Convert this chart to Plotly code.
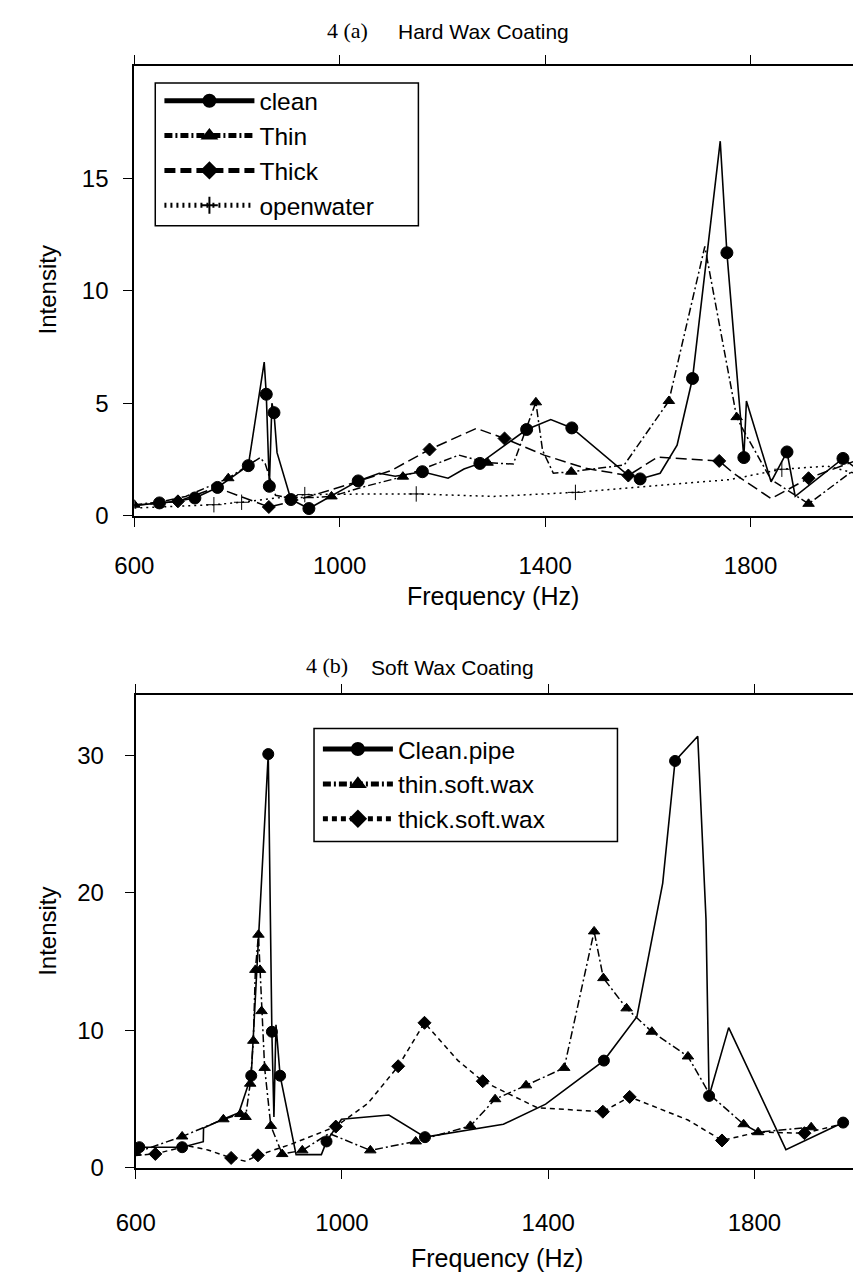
import plotly.graph_objects as go

# ---------------- data: panel (a) Hard wax coating ----------------
clean_a_f = [600, 649, 680, 718, 762, 822, 853, 857, 863, 868, 872, 878, 905, 940, 1036, 1077, 1108,
             1161, 1211, 1242, 1273, 1364, 1411, 1452, 1557, 1585, 1624, 1657, 1687, 1741, 1754, 1787,
             1792, 1840, 1871, 1887, 1980, 2000]
clean_a_v = [0.45, 0.56, 0.62, 0.78, 1.25, 2.22, 6.83, 5.4, 1.3, 5.0, 4.58, 2.8, 0.71, 0.31, 1.54, 1.88, 1.75,
             1.95, 1.66, 2.07, 2.32, 3.83, 4.27, 3.9, 1.88, 1.63, 1.88, 3.13, 6.1, 16.67, 11.7, 2.58,
             5.1, 1.5, 2.83, 0.85, 2.54, 2.2]
clean_a_mk = [0, 1, 0, 1, 1, 1, 0, 1, 1, 0, 1, 0, 1, 1, 1, 0, 0,
              1, 0, 0, 1, 1, 0, 1, 0, 1, 0, 0, 1, 0, 1, 1,
              0, 0, 1, 0, 1, 0]

thin_a_f = [600, 650, 700, 783, 845, 855, 875, 900, 950, 984, 1050, 1123, 1232, 1288, 1338, 1382, 1395,
            1416, 1451, 1554, 1641, 1711, 1773, 1786, 1840, 1913, 2000]
thin_a_v = [0.48, 0.6, 0.85, 1.66, 2.58, 2.3, 0.9, 0.8, 0.8, 0.85, 1.3, 1.73, 2.69, 2.35, 2.29, 5.04, 2.9,
            1.88, 1.95, 2.25, 5.1, 11.98, 4.38, 3.8, 1.6, 0.52, 2.0]
thin_a_mk = [1, 0, 0, 1, 0, 0, 0, 0, 0, 1, 0, 1, 0, 1, 0, 1, 0,
             0, 1, 0, 1, 0, 1, 0, 0, 1, 0]

thick_a_f = [600, 685, 760, 790, 862, 905, 1015, 1100, 1175, 1266, 1321, 1398, 1479, 1562, 1619, 1739,
             1767, 1840, 1913, 2000]
thick_a_v = [0.45, 0.63, 1.25, 1.0, 0.38, 0.6, 1.37, 2.0, 2.94, 3.88, 3.43, 2.69, 2.1, 1.78, 2.6, 2.43,
             1.88, 0.75, 1.66, 2.4]
thick_a_mk = [0, 1, 0, 0, 1, 0, 0, 0, 1, 0, 1, 0, 0, 1, 0, 1,
              0, 0, 1, 0]

water_a_f = [600, 700, 755, 809, 870, 932, 1000, 1149, 1300, 1459, 1600, 1760, 1861, 1950, 2000]
water_a_v = [0.33, 0.42, 0.48, 0.59, 0.75, 0.93, 0.95, 0.96, 0.85, 1.03, 1.3, 1.6, 2.06, 2.2, 1.9]
water_a_mk = [0, 0, 1, 1, 0, 1, 0, 1, 0, 1, 0, 0, 1, 0, 0]

# ---------------- data: panel (b) Soft wax coating ----------------
clean_b_f = [600, 607, 640, 690, 731, 731.5, 767, 800, 824, 857, 864, 868, 872, 880, 911, 960, 970, 999,
             1091, 1161, 1313, 1395, 1508, 1572, 1622, 1646, 1690, 1706, 1712, 1750, 1861, 1972]
clean_b_v = [1.7, 1.5, 1.5, 1.5, 1.9, 2.9, 3.5, 4.0, 6.7, 30.1, 9.9, 3.7, 10.4, 6.7, 0.96, 0.96, 1.92, 3.53,
             3.84, 2.23, 3.17, 4.63, 7.8, 11.0, 20.7, 29.6, 31.4, 18.1, 5.23, 10.2, 1.32, 3.29]
clean_b_mk = [0, 1, 0, 1, 0, 0, 0, 0, 1, 1, 1, 0, 0, 1, 0, 0, 1, 0,
              0, 1, 0, 0, 1, 0, 0, 1, 0, 0, 1, 0, 0, 1]

thin_b_f = [600, 690, 770, 803, 813, 822, 828, 832, 838, 841, 844, 850, 862, 884, 923, 975, 1055, 1143,
            1249, 1297, 1357, 1431, 1489, 1507, 1552, 1601, 1671, 1714, 1779, 1807, 1910]
thin_b_v = [1.1, 2.28, 3.53, 3.91, 3.7, 6.12, 9.24, 14.4, 16.96, 14.4, 11.4, 7.27, 3.05, 1.0, 1.27, 2.5,
            1.27, 1.92, 3.05, 4.99, 6.0, 7.27, 17.2, 13.8, 11.6, 9.9, 8.1, 5.3, 3.17, 2.59, 2.95]
thin_b_mk = [1, 1, 1, 1, 1, 1, 1, 1, 1, 1, 1, 1, 1, 1, 1, 0, 1, 1,
             1, 1, 1, 1, 1, 1, 1, 1, 1, 0, 1, 1, 1]

thick_b_f = [600, 638, 700, 740, 785, 813, 837, 900, 988, 1050, 1109, 1160, 1225, 1273, 1379, 1506,
             1558, 1671, 1737, 1807, 1897, 1972]
thick_b_v = [0.9, 1.01, 1.6, 1.3, 0.72, 0.48, 0.91, 1.7, 3.0, 4.68, 7.39, 10.55, 7.8, 6.3, 4.37, 4.08,
             5.16, 3.48, 1.99, 2.6, 2.52, 3.2]
thick_b_mk = [0, 1, 0, 0, 1, 0, 1, 0, 1, 0, 1, 1, 0, 1, 0, 1,
              1, 0, 1, 0, 1, 0]

x_ticks = [600, 1000, 1400, 1800]
y_ticks_a = [0, 5, 10, 15]
y_ticks_b = [0, 10, 20, 30]

# ---------------- figure ----------------
W, H = 861, 1282
SANS = "Liberation Sans, Arial, sans-serif"
SERIF = "Liberation Serif, Times New Roman, serif"
BLACK = "#000000"


def sizes(mask, s):
    return [s if m else 0 for m in mask]


fig = go.Figure()


def add(f, v, mk, name, dash, symbol, msize, xa, ya, legend, width=1.5):
    fig.add_trace(go.Scatter(
        x=f, y=v, name=name, mode="lines+markers", xaxis=xa, yaxis=ya, legend=legend,
        line=dict(color=BLACK, width=width, dash=dash),
        marker=dict(color=BLACK, symbol=symbol, size=sizes(mk, msize), opacity=1,
                    line=dict(color=BLACK, width=1)),
    ))


add(clean_a_f, clean_a_v, clean_a_mk, "clean", "solid", "circle", 12, "x", "y", "legend", 1.6)
add(thin_a_f, thin_a_v, thin_a_mk, "Thin", "8px,3px,2px,3px", "triangle-up", 10, "x", "y", "legend")
add(thick_a_f, thick_a_v, thick_a_mk, "Thick", "11px,5px", "diamond", 10, "x", "y", "legend")
add(water_a_f, water_a_v, water_a_mk, "openwater", "2px,4px", "cross-thin-open", 11, "x", "y", "legend")

add(clean_b_f, clean_b_v, clean_b_mk, "Clean.pipe", "solid", "circle", 11, "x2", "y2", "legend2", 1.6)
add(thin_b_f, thin_b_v, thin_b_mk, "thin.soft.wax", "8px,3px,2px,3px", "triangle-up", 10, "x2", "y2", "legend2")
add(thick_b_f, thick_b_v, thick_b_mk, "thick.soft.wax", "5px,4px", "diamond", 10, "x2", "y2", "legend2")

axis_common = dict(showline=True, linecolor=BLACK, linewidth=2, mirror="allticks",
                   ticks="outside", ticklen=9, tickwidth=1, tickcolor=BLACK,
                   showgrid=False, zeroline=False,
                   tickfont=dict(family=SANS, size=24, color=BLACK))

legend_common = dict(xanchor="left", yanchor="top", borderwidth=0, bgcolor="rgba(0,0,0,0)",
                     font=dict(family=SANS, size=24.5, color=BLACK), itemsizing="constant",
                     tracegroupgap=0)

fig.update_layout(
    width=W, height=H, margin=dict(l=0, r=0, t=0, b=0),
    paper_bgcolor="white", plot_bgcolor="white",
    xaxis=dict(domain=[110 / W, 854 / W], range=[600, 2000], tickvals=x_ticks, anchor="y",
               ticklabelstandoff=19, **axis_common),
    yaxis=dict(domain=[1 - 512.7 / H, 1 - 59 / H], range=[0, 20], tickvals=y_ticks_a, anchor="x",
               ticklabelstandoff=10, **axis_common),
    xaxis2=dict(domain=[111.5 / W, 858.5 / W], range=[600, 2000], tickvals=x_ticks, anchor="y2",
                ticklabelstandoff=23, **axis_common),
    yaxis2=dict(domain=[1 - 1171.7 / H, 1 - 694 / H], range=[0, 34.4], tickvals=y_ticks_b, anchor="x2",
                ticklabelstandoff=16, **axis_common),
    legend=dict(x=136 / W, y=1 - 71 / H, itemwidth=90, **legend_common),
    legend2=dict(x=300 / W, y=1 - 726 / H, itemwidth=70, **legend_common),
    showlegend=True,
    shapes=[
        dict(type="rect", xref="paper", yref="paper", x0=131.7 / W, x1=404 / W,
             y0=1 - 220 / H, y1=1 - 75.7 / H, line=dict(color=BLACK, width=1.5), layer="below"),
        dict(type="rect", xref="paper", yref="paper", x0=296 / W, x1=610 / W,
             y0=1 - 842 / H, y1=1 - 728 / H, line=dict(color=BLACK, width=1.5), layer="below"),
    ],
)

ann = [
    dict(text="4 (a)", x=331 / W, y=1 - 23 / H, font=dict(family=SERIF, size=22)),
    dict(text="Hard Wax Coating", x=381 / W, y=1 - 24 / H, xanchor="left", font=dict(family=SANS, size=21)),
    dict(text="4 (b)", x=309 / W, y=1 - 664 / H, font=dict(family=SERIF, size=22)),
    dict(text="Soft Wax Coating", x=353 / W, y=1 - 666 / H, xanchor="left", font=dict(family=SANS, size=21)),
    dict(text="Frequency (Hz)", x=481 / W, y=1 - 594 / H, font=dict(family=SANS, size=25)),
    dict(text="Frequency (Hz)", x=485 / W, y=1 - 1263 / H, font=dict(family=SANS, size=25)),
    dict(text="Intensity", x=20 / W, y=1 - 285 / H, textangle=-90, font=dict(family=SANS, size=24)),
    dict(text="Intensity", x=20 / W, y=1 - 933 / H, textangle=-90, font=dict(family=SANS, size=24)),
]
for a in ann:
    a.setdefault("xanchor", "center")
    a.update(xref="paper", yref="paper", yanchor="middle", showarrow=False)
    a["font"]["color"] = BLACK
    fig.add_annotation(**a)

fig.write_html("out.html")
